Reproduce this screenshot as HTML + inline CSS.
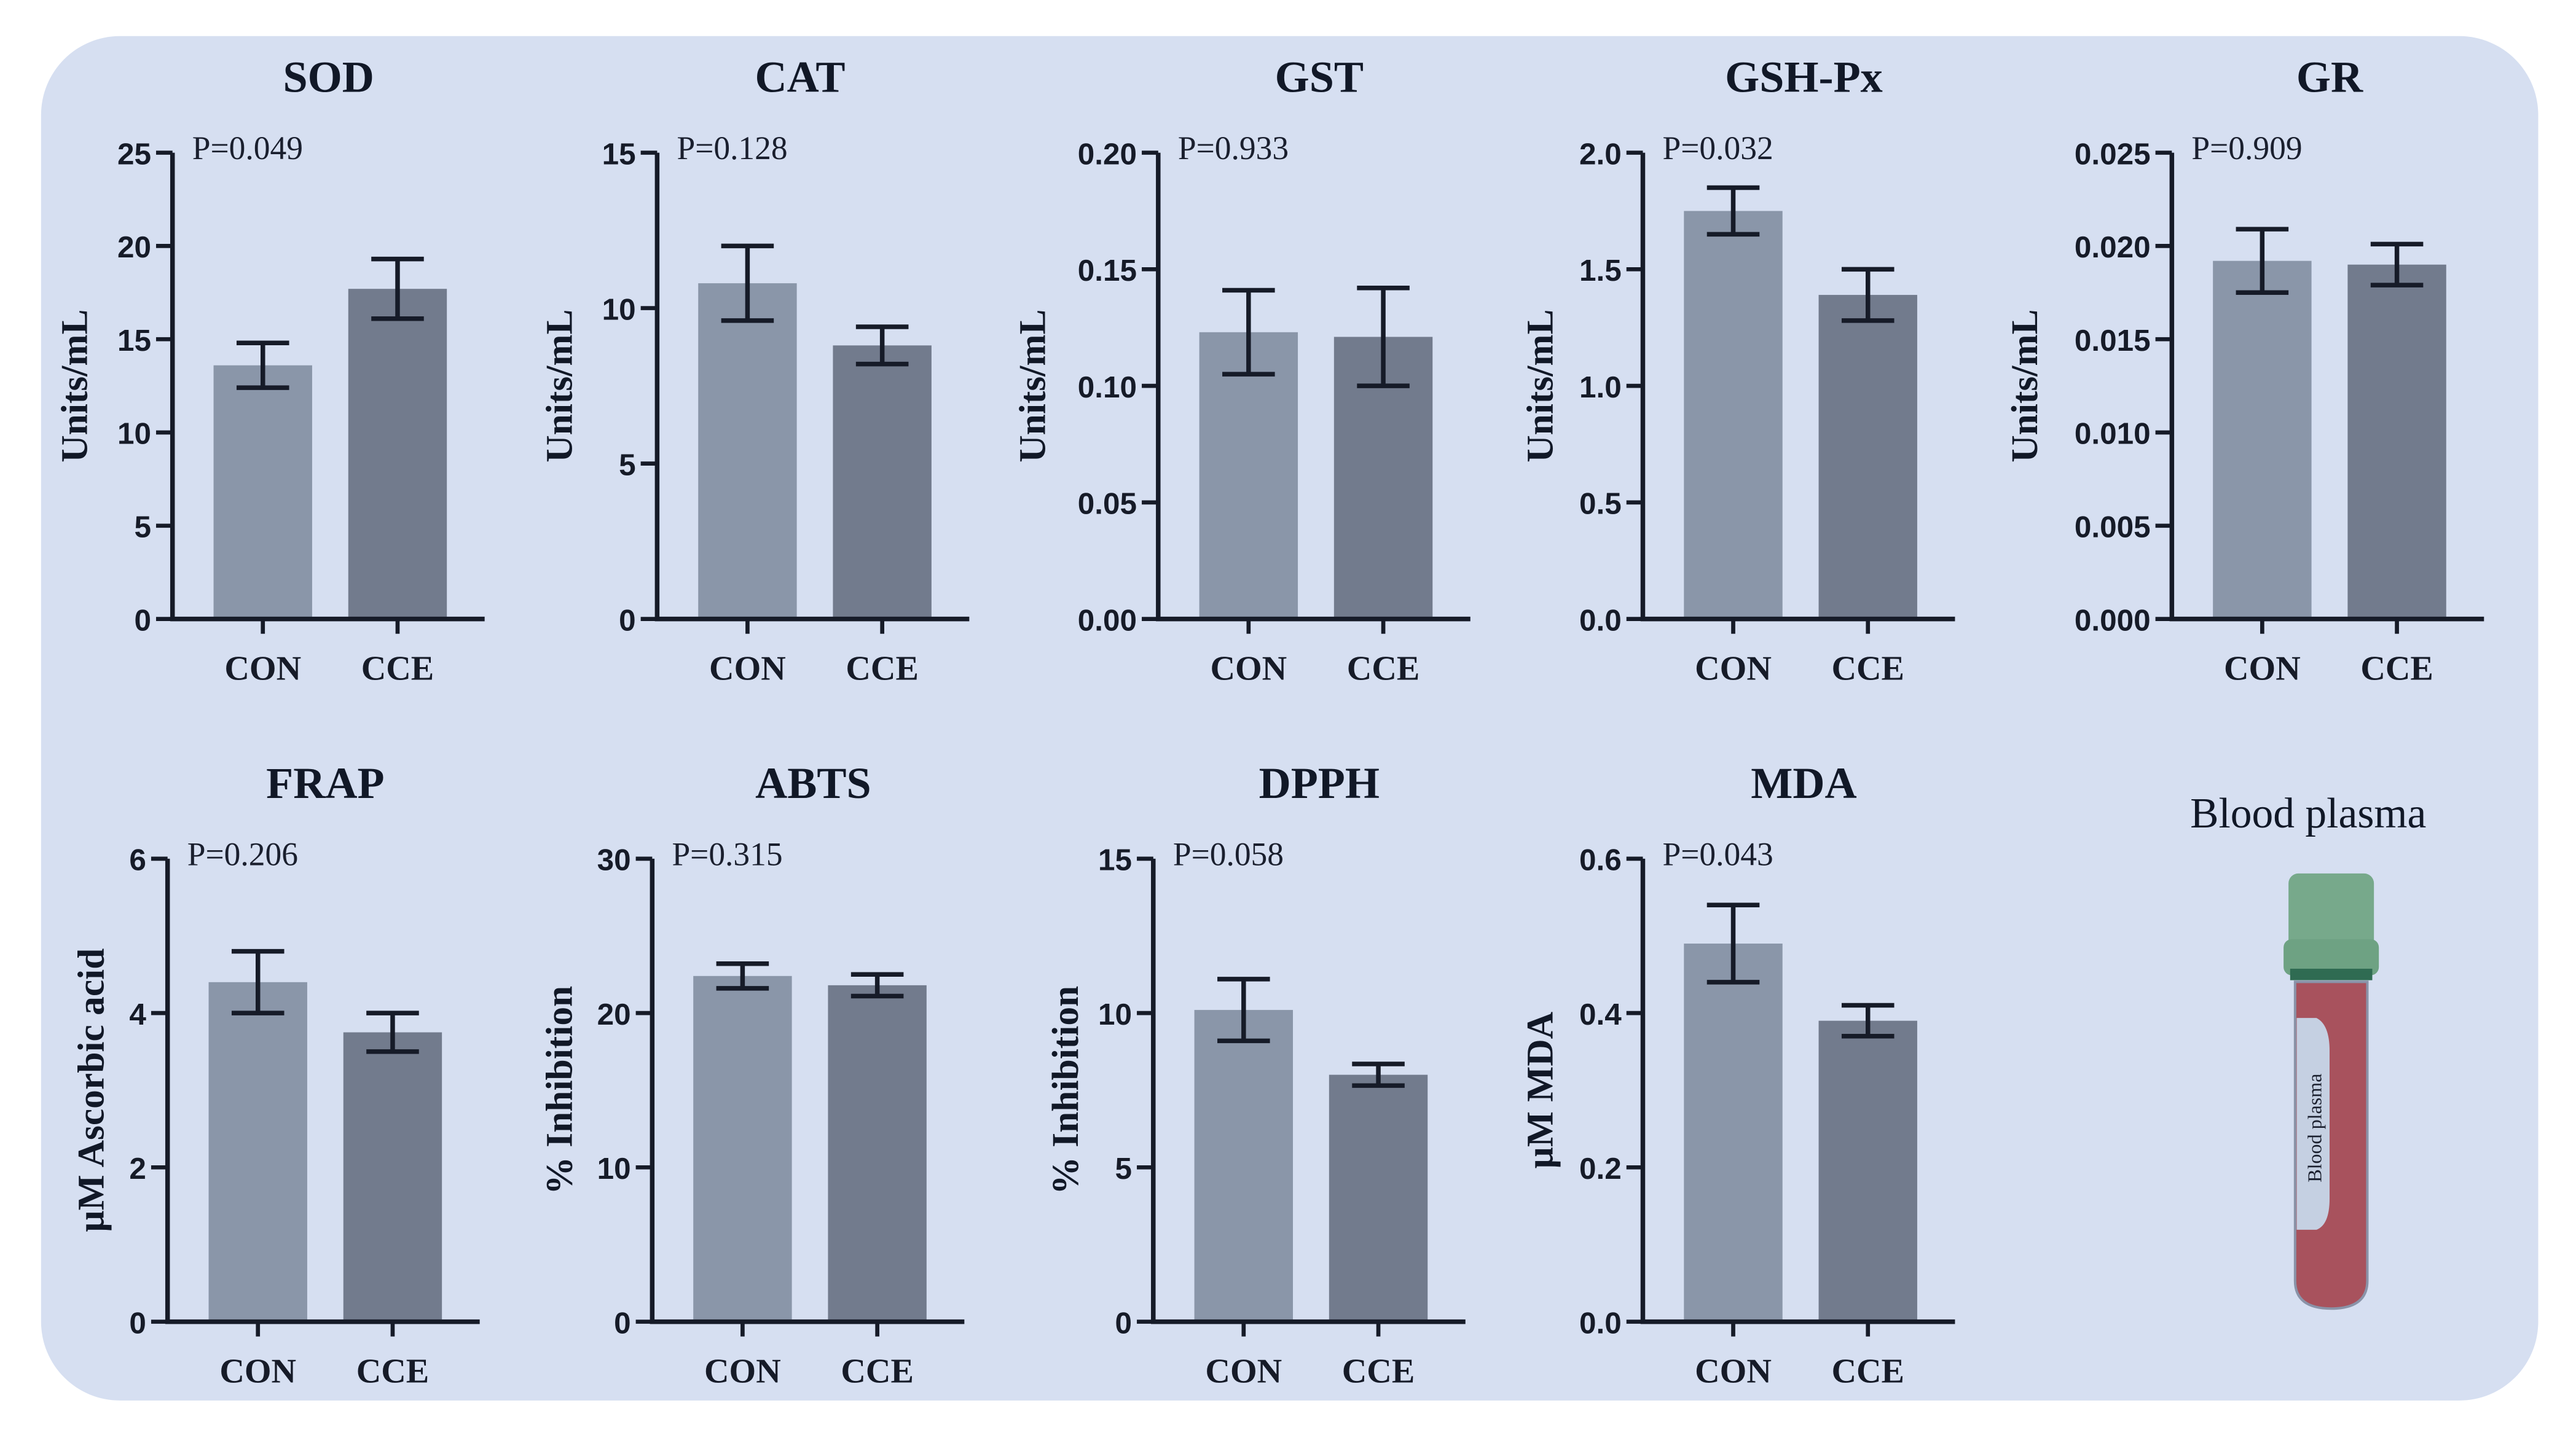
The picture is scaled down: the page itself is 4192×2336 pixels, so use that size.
<!DOCTYPE html>
<html><head><meta charset="utf-8">
<style>
html,body{margin:0;padding:0;background:#fff;}
svg{display:block;}
</style></head>
<body>
<svg id="fig" width="4192" height="2336" viewBox="0 0 1568 874" preserveAspectRatio="none" xmlns="http://www.w3.org/2000/svg">
<rect x="25" y="22" width="1520" height="831" rx="48" fill="#d6dff1"/>
<g id="charts"></g>
<g>
<text x="1405" y="504" text-anchor="middle" font-family="Liberation Serif, serif" font-size="26" fill="#111827">Blood plasma</text>
<path d="M1397 598 L1397 780 Q1397 797 1419 797 Q1441 797 1441 780 L1441 598 Z" fill="#a8525d" stroke="#8a93a8" stroke-width="1.5"/>
<path d="M1398 620 L1410 620 Q1418 624 1418 640 L1418 730 Q1418 746 1410 749 L1398 749 Z" fill="#c5d0e2"/>
<text transform="translate(1413 687) rotate(-90)" text-anchor="middle" font-family="Liberation Serif, serif" font-size="12" fill="#1a1f2e">Blood plasma</text>
<rect x="1393" y="532" width="52" height="48" rx="6" fill="#77a98b"/>
<rect x="1390" y="572" width="58" height="22" rx="5" fill="#6ea283"/>
<rect x="1394" y="590" width="50" height="7" fill="#2f6b52"/>
</g>
</svg>
<script>
const titles = ["SOD","CAT","GST","GSH-Px","GR","FRAP","ABTS","DPPH","MDA"];
const pvalues = ["P=0.049","P=0.128","P=0.933","P=0.032","P=0.909","P=0.206","P=0.315","P=0.058","P=0.043"];
const yTitles = ["Units/mL","Units/mL","Units/mL","Units/mL","Units/mL","µM Ascorbic acid","% Inhibition","% Inhibition","µM MDA"];
const categories = ["CON","CCE"];
const conMeans = [13.6,10.8,0.123,1.75,0.0192,4.4,22.4,10.1,0.49];
const conErrs = [1.2,1.2,0.018,0.10,0.0017,0.4,0.8,1.0,0.05];
const cceMeans = [17.7,8.8,0.121,1.39,0.0190,3.75,21.8,8.0,0.39];
const cceErrs = [1.6,0.6,0.021,0.11,0.0011,0.25,0.7,0.35,0.02];
const yMax = [25,15,0.20,2.0,0.025,6,30,15,0.6];
const yTickLabels = [
 ["0","5","10","15","20","25"],
 ["0","5","10","15"],
 ["0.00","0.05","0.10","0.15","0.20"],
 ["0.0","0.5","1.0","1.5","2.0"],
 ["0.000","0.005","0.010","0.015","0.020","0.025"],
 ["0","2","4","6"],
 ["0","10","20","30"],
 ["0","5","10","15"],
 ["0.0","0.2","0.4","0.6"]
];
const NS="http://www.w3.org/2000/svg";
const root=document.getElementById('charts');
function mk(tag,attrs,parent){const e=document.createElementNS(NS,tag);for(const k in attrs)e.setAttribute(k,attrs[k]);parent.appendChild(e);return e;}
const axisX=[105,400,705,1000,1322,102,397,702,1000];
const yTitleX=[53,348,636,945,1240,63,348,656,945];
const titleX=[200,487,803,1098,1418,198,495,803,1098];
const colors=["#8a96a9","#727b8d"];
for(let i=0;i<titles.length;i++){
  const row=i<5?0:1;
  const top=row?523:93, bot=row?805:377;
  const ax=axisX[i];
  const ys=v=>bot-(v/yMax[i])*(bot-top);
  const g=mk('g',{},root);
  
  
  const t=mk('text',{x:titleX[i],y:top-37,'text-anchor':'middle','font-family':'Liberation Serif, serif','font-weight':'bold','font-size':'27',fill:'#111827'},g);
  t.textContent=titles[i];
  
  
  const p=mk('text',{x:ax+12,y:top+4,'font-family':'Liberation Serif, serif','font-size':'20',fill:'#1a1f2e'},g);
  p.textContent=pvalues[i];
  
  
  const yt=mk('text',{transform:`translate(${yTitleX[i]} ${row?664:235}) rotate(-90)`,'text-anchor':'middle','font-family':'Liberation Serif, serif','font-weight':'bold','font-size':'23',fill:'#111827'},g);
  yt.textContent=yTitles[i];
  
  
  const labs=yTickLabels[i];
  labs.forEach(l=>{
    const y=ys(parseFloat(l));
    const tk=mk('line',{x1:ax-10,x2:ax,y1:y,y2:y,stroke:'#161b28','stroke-width':'2.5'},g);
    
    
    const tl=mk('text',{x:ax-13,y:y+7,'text-anchor':'end','font-family':'Liberation Sans, sans-serif','font-weight':'bold','font-size':'18.5',fill:'#161b28'},g);
    tl.textContent=l;
    
    
  });
  const means=[conMeans[i],cceMeans[i]], errs=[conErrs[i],cceErrs[i]];
  for(let j=0;j<2;j++){
    const cx=ax+55+j*82;
    const b=mk('rect',{x:cx-30,y:ys(means[j]),width:60,height:bot-ys(means[j]),fill:colors[j]},g);
    
    
    const e=mk('path',{d:`M${cx} ${ys(means[j]-errs[j])} V${ys(means[j]+errs[j])} M${cx-16} ${ys(means[j]+errs[j])} H${cx+16} M${cx-16} ${ys(means[j]-errs[j])} H${cx+16}`,stroke:'#161b28','stroke-width':'2.8',fill:'none'},g);
    
    
    const xt=mk('line',{x1:cx,x2:cx,y1:bot,y2:bot+9,stroke:'#161b28','stroke-width':'2.5'},g);
    
    
    const xl=mk('text',{x:cx,y:bot+37,'text-anchor':'middle','font-family':'Liberation Serif, serif','font-weight':'bold','font-size':'21',fill:'#161b28'},g);
    xl.textContent=categories[j];
    
    
  }
  const axl=mk('path',{d:`M${ax} ${top} V${bot} H${ax+190}`,stroke:'#161b28','stroke-width':'2.8',fill:'none'},g);
  
  
}
</script>
</body></html>
